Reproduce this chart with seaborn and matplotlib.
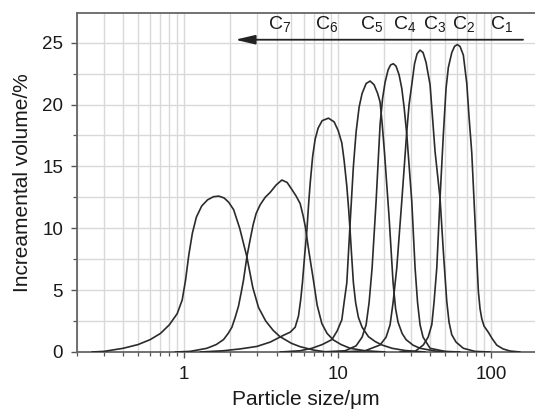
import numpy as np
import pandas as pd
import matplotlib
matplotlib.use("Agg")
import matplotlib.pyplot as plt
import seaborn as sns
from matplotlib.ticker import LogLocator, MultipleLocator, NullFormatter, FixedLocator, FixedFormatter

# ---------------- data (particle size in um, incremental volume in %) ----------------
c7_x = [0.25, 0.3, 0.4, 0.5, 0.6, 0.7, 0.8, 0.9, 0.97, 1.02, 1.07, 1.13, 1.2, 1.3, 1.42, 1.55,
        1.68, 1.82, 1.95, 2.1, 2.3, 2.56, 2.8, 3.05, 3.4, 3.8, 4.2, 5.0, 5.7, 7.0, 8.5]
c7_y = [0, 0.05, 0.3, 0.6, 1.0, 1.5, 2.2, 3.1, 4.2, 5.8, 7.8, 9.6, 10.9, 11.8, 12.3, 12.55,
        12.6, 12.45, 12.1, 11.5, 10.0, 7.7, 5.2, 3.6, 2.5, 1.75, 1.25, 0.7, 0.43, 0.15, 0]

c6_x = [0.874, 1.094, 1.405, 1.616, 1.803, 1.934, 2.045, 2.149, 2.258, 2.351, 2.434, 2.562, 2.692,
        2.815, 2.944, 3.127, 3.370, 3.634, 3.975, 4.331, 4.688, 5.053, 5.366, 5.697, 5.96, 6.143,
        6.52, 6.956, 7.35, 7.89, 8.54, 9.389, 10.54, 12.06, 15.11, 20.39]
c6_y = [0, 0.05, 0.3, 0.6, 1.0, 1.5, 2.0, 2.8, 3.7, 4.8, 5.8, 7.7, 9.1,
        10.3, 11.2, 11.9, 12.5, 12.9, 13.5, 13.9, 13.7, 13.1, 12.6, 12.0, 11.0, 10.2,
        8.0, 5.8, 3.8, 2.3, 1.5, 0.97, 0.6, 0.3, 0.1, 0]

c5_x = [1.271, 1.795, 2.317, 2.976, 3.634, 4.436, 4.904, 5.286, 5.555, 5.741, 5.897, 6.095, 6.301,
        6.474, 6.620, 6.873, 7.136, 7.464, 7.93, 8.713, 9.49, 10.08, 10.65, 11.02, 11.48, 11.79,
        12.06, 12.34, 12.67, 13.10, 13.66, 14.44, 15.88, 17.55, 19.41, 22.65, 27.53, 37.15]
c5_y = [0, 0.1, 0.25, 0.45, 0.8, 1.35, 1.6, 2.0, 2.9, 4.2, 5.6, 7.8, 9.8,
        12.0, 13.6, 15.8, 17.2, 18.1, 18.7, 18.9, 18.6, 17.9, 16.9, 15.5, 13.4, 11.6,
        9.8, 7.8, 5.6, 4.0, 2.8, 2.0, 1.24, 0.85, 0.57, 0.3, 0.12, 0]

c4_x = [4.22, 5.697, 6.79, 7.93, 9.17, 9.93, 10.65, 11.02, 11.48, 12.06, 12.67, 13.20, 13.81, 14.44,
        15.34, 16.28, 17.29, 18.23, 18.92, 19.50, 20.24, 21.65, 22.99, 23.87, 24.78, 26.32, 27.94,
        31.04, 34.46, 43.17, 54.07]
c4_y = [0, 0.1, 0.3, 0.6, 1.0, 1.7, 2.6, 4.0, 5.6, 10.4, 15.0, 17.8, 19.8, 20.9,
        21.7, 21.9, 21.6, 20.9, 20.2, 18.5, 16.0, 10.9, 5.6, 3.5, 2.4, 1.5, 1.0,
        0.55, 0.3, 0.08, 0]

c3_x = [7.69, 11.19, 13.20, 14.44, 15.34, 16.04, 16.78, 17.82, 18.92, 19.64, 20.39, 21.33, 22.14,
        23.09, 24.05, 25.16, 26.20, 27.12, 28.23, 30.43, 31.98, 33.20, 34.46, 36.06, 40.06, 50.15, 62.81]
c3_y = [0, 0.1, 0.5, 1.2, 2.2, 4.0, 6.8, 12.2, 18.4, 20.5, 21.8, 22.8, 23.2,
        23.3, 23.1, 22.4, 21.3, 19.8, 17.6, 12.2, 6.8, 4.0, 2.2, 1.2, 0.3, 0.05, 0]

c2_x = [10.38, 15.11, 18.92, 20.70, 21.98, 22.99, 24.30, 26.20, 28.23, 29.23, 30.43, 31.73, 32.95,
        34.46, 36.06, 37.72, 40.06, 43.17, 46.54, 48.90, 51.45, 53.26, 55.46, 59.16, 65.99, 78.68, 98.5]
c2_y = [0, 0.1, 0.57, 1.2, 2.2, 4.0, 6.8, 12.2, 17.8, 20.0, 21.6, 23.3, 24.1,
        24.4, 24.2, 23.4, 21.6, 16.2, 12.4, 8.1, 4.1, 2.4, 1.4, 0.8, 0.3, 0.05, 0]

c1_x = [25.5, 32.0, 36.2, 38.9, 41.1, 42.5, 44.3, 46.5, 48.9, 50.9, 52.7, 55.5, 57.8, 60.3, 62.8,
        66.0, 69.5, 71.9, 74.9, 78.7, 82.7, 84.8, 87.0, 90.0, 96.0, 101.5, 108.9, 119.7, 133.0, 154.5]
c1_y = [0, 0.05, 0.57, 1.2, 2.2, 4.0, 6.8, 12.4, 17.6, 21.3, 23.0, 24.2, 24.7, 24.85, 24.7,
        24.0, 21.7, 19.0, 16.1, 10.5, 4.9, 3.5, 2.7, 2.1, 1.6, 1.1, 0.56, 0.25, 0.08, 0]

curve_names = ["C7", "C6", "C5", "C4", "C3", "C2", "C1"]
label_text = ["7", "6", "5", "4", "3", "2", "1"]
label_x = [3.53, 7.14, 14.02, 22.99, 36.06, 55.7, 98.5]
label_y = 26.13
arrow_from = 161.6
arrow_to = 2.15
arrow_y = 25.24

x_ticks = [1, 10, 100]
x_tick_labels = ["1", "10", "100"]
y_ticks = [0, 5, 10, 15, 20, 25]

# ---------------- build table ----------------
series = [(c7_x, c7_y), (c6_x, c6_y), (c5_x, c5_y), (c4_x, c4_y),
          (c3_x, c3_y), (c2_x, c2_y), (c1_x, c1_y)]
frames = []
for name, (xs, ys) in zip(curve_names, series):
    frames.append(pd.DataFrame({"curve": name, "size": xs, "vol": ys}))
df = pd.concat(frames, ignore_index=True)

# ---------------- style ----------------
sns.set_theme(style="white")
plt.rcParams["font.family"] = ["Liberation Sans", "DejaVu Sans"]
plt.rcParams["mathtext.fontset"] = "custom"
plt.rcParams["mathtext.rm"] = "Liberation Sans"
plt.rcParams["mathtext.it"] = "Liberation Sans"

fig = plt.figure(figsize=(5.35, 4.12), dpi=100)
ax = fig.add_axes([77 / 535, 60 / 412, 1 - 77 / 535, 339 / 412])

sns.lineplot(data=df, x="size", y="vol", units="curve", estimator=None, sort=False,
             color="#2b2b2b", linewidth=1.2, ax=ax, zorder=3)

ax.set_xscale("log")
ax.set_xlim(0.2, 193.5)
ax.set_ylim(0, 27.4)

ax.xaxis.set_major_locator(FixedLocator(x_ticks))
ax.xaxis.set_major_formatter(FixedFormatter(x_tick_labels))
ax.xaxis.set_minor_locator(LogLocator(base=10, subs=np.arange(2, 10)))
ax.xaxis.set_minor_formatter(NullFormatter())
ax.yaxis.set_major_locator(FixedLocator(y_ticks))
ax.yaxis.set_minor_locator(MultipleLocator(2.5))

ax.set_axisbelow(True)
ax.grid(which="both", color="#d9d9d9", linewidth=1.0)

for side in ["left", "bottom", "top"]:
    ax.spines[side].set_color("#666666")
    ax.spines[side].set_linewidth(1.3)
ax.spines["right"].set_visible(False)

ax.tick_params(axis="both", which="major", direction="out", length=4, width=1.0,
               color="#555555", labelsize=13.5, pad=6, labelcolor="#1a1a1a",
               bottom=True, left=True, top=False, right=False)
ax.tick_params(axis="both", which="minor", direction="out", length=3, width=0.9,
               color="#555555", bottom=True, left=True, top=False, right=False)

ax.set_xlabel("Particle size/\u03bcm", fontsize=15, color="#1a1a1a", labelpad=5)
ax.set_ylabel("Increamental volume/%", fontsize=15, color="#1a1a1a", labelpad=7)

for t, lx in zip(label_text, label_x):
    ax.text(lx, label_y, r"C$_{\mathregular{" + t + "}}$", fontsize=14, color="#1a1a1a",
            ha="left", va="baseline", zorder=4)

ax.annotate("", xy=(arrow_to, arrow_y), xytext=(arrow_from, arrow_y),
            arrowprops=dict(arrowstyle="-|>,head_length=0.85,head_width=0.2",
                            color="#222222", lw=1.3, mutation_scale=14,
                            shrinkA=0, shrinkB=0), zorder=4)

fig.savefig("out.png", dpi=100)
